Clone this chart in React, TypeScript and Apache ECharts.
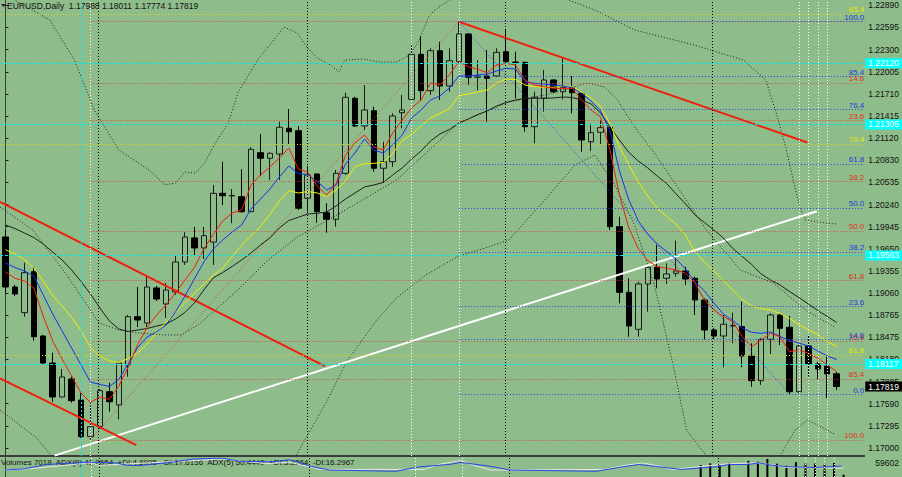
import React, { useEffect, useRef } from "react";
import * as echarts from "echarts";

const BG = "#8fbc8b";
const FONT = "Liberation Sans, Arial, sans-serif";

// ---------------- data ----------------
const OPEN = [1.19808,1.19143,1.18801,1.19346,1.18491,1.18132,1.17680,1.17919,1.17640,1.17152,1.17285,1.17750,1.17574,1.18106,1.18748,1.18664,1.19130,1.18917,1.19076,1.19475,1.19795,1.19662,1.19741,1.20389,1.20353,1.20344,1.20144,1.20929,1.20855,1.20912,1.21254,1.21222,1.20323,1.20646,1.20131,1.20043,1.20655,1.21653,1.21284,1.21488,1.20722,1.20809,1.21461,1.21639,1.22238,1.21754,1.22286,1.21816,1.22140,1.22508,1.21932,1.21949,1.21949,1.22272,1.22135,1.22131,1.21275,1.21653,1.21896,1.21740,1.21799,1.21719,1.21075,1.21201,1.21267,1.19945,1.19072,1.18580,1.19183,1.19405,1.19259,1.19325,1.19356,1.19259,1.18970,1.18571,1.18491,1.18624,1.18615,1.18225,1.17897,1.18447,1.18771,1.18607,1.17750,1.18358,1.18119,1.18092,1.17988];
const HIGH = [1.19901,1.19170,1.19466,1.19409,1.18505,1.18269,1.18052,1.17950,1.17733,1.17604,1.17786,1.17870,1.18136,1.18771,1.19143,1.19289,1.19156,1.19196,1.19569,1.19874,1.19941,1.19941,1.20500,1.20809,1.20446,1.20708,1.21001,1.21178,1.20932,1.21341,1.21510,1.21284,1.20752,1.20655,1.20256,1.20699,1.21727,1.21674,1.21830,1.21541,1.21075,1.21453,1.21697,1.22362,1.22481,1.22318,1.22405,1.22318,1.22671,1.22517,1.22160,1.22295,1.22318,1.22570,1.22272,1.22140,1.21740,1.22029,1.21905,1.22185,1.21949,1.21723,1.21315,1.21360,1.21275,1.20078,1.19259,1.19213,1.19413,1.19702,1.19458,1.19759,1.19413,1.19280,1.18993,1.18598,1.18771,1.18801,1.18947,1.18394,1.18461,1.18793,1.18793,1.18757,1.18372,1.18505,1.18149,1.18216,1.18011];
const LOW = [1.19063,1.19023,1.18748,1.18429,1.18106,1.17617,1.17673,1.17604,1.17135,1.17108,1.17254,1.17484,1.17383,1.17950,1.18611,1.18611,1.18957,1.18731,1.19037,1.19436,1.19569,1.19515,1.19436,1.20234,1.19990,1.20131,1.20140,1.20619,1.20566,1.20566,1.21032,1.20167,1.20144,1.19998,1.19865,1.19945,1.20633,1.21275,1.21231,1.20676,1.20530,1.20740,1.21254,1.21630,1.21630,1.21697,1.21630,1.21740,1.22118,1.21830,1.21760,1.21341,1.21940,1.22126,1.21653,1.21208,1.21054,1.21474,1.21719,1.21639,1.21453,1.20942,1.20952,1.21032,1.19901,1.18926,1.18482,1.18482,1.18814,1.19126,1.19183,1.19280,1.19170,1.18771,1.18447,1.18451,1.18075,1.18394,1.18075,1.17817,1.17840,1.18252,1.18372,1.17719,1.17733,1.17950,1.17915,1.17663,1.17774];
const CLOSE = [1.19143,1.19050,1.19333,1.18482,1.18132,1.17680,1.17946,1.17631,1.17152,1.17285,1.17764,1.17617,1.18132,1.18748,1.18704,1.19143,1.18983,1.19103,1.19475,1.19808,1.19662,1.19825,1.20389,1.20357,1.20360,1.20144,1.20974,1.20855,1.20921,1.21267,1.21208,1.20190,1.20633,1.20144,1.20043,1.20655,1.21666,1.21284,1.21497,1.20722,1.20809,1.21417,1.21497,1.22238,1.21754,1.22286,1.21816,1.22153,1.22508,1.21932,1.21949,1.21919,1.22264,1.22140,1.22129,1.21275,1.21666,1.21896,1.21740,1.21799,1.21727,1.21098,1.21195,1.21262,1.19945,1.19072,1.18624,1.19183,1.19405,1.19249,1.19316,1.19356,1.19249,1.18970,1.18571,1.18491,1.18647,1.18631,1.18225,1.17897,1.18447,1.18771,1.18594,1.17750,1.18358,1.18119,1.18052,1.17986,1.17819];

const MA_RED = [1.19342,1.19259,1.19223,1.19130,1.18757,1.18425,1.18185,1.17959,1.17733,1.17607,1.17680,1.17647,1.17826,1.18079,1.18378,1.18604,1.18771,1.18904,1.19063,1.19236,1.19402,1.19648,1.19841,1.20021,1.20127,1.20167,1.20500,1.20633,1.20739,1.20859,1.20992,1.20712,1.20672,1.20486,1.20367,1.20513,1.20899,1.21058,1.21165,1.21005,1.20965,1.21191,1.21364,1.21524,1.21630,1.21856,1.21830,1.21963,1.22139,1.22073,1.22038,1.21993,1.22096,1.22118,1.22096,1.21896,1.21830,1.21807,1.21786,1.21783,1.21786,1.21630,1.21497,1.21404,1.20965,1.20370,1.19928,1.19655,1.19495,1.19413,1.19392,1.19369,1.19325,1.19196,1.18970,1.18837,1.18748,1.18681,1.18482,1.18349,1.18438,1.18527,1.18482,1.18282,1.18305,1.18261,1.18195,1.18106,1.18016];
const MA_BLUE = [1.19462,1.19402,1.19356,1.19289,1.19037,1.18784,1.18558,1.18332,1.18106,1.17879,1.17846,1.17820,1.17913,1.18125,1.18338,1.18478,1.18544,1.18638,1.18810,1.19023,1.19249,1.19475,1.19648,1.19768,1.19874,1.19968,1.20180,1.20313,1.20446,1.20606,1.20752,1.20652,1.20639,1.20546,1.20433,1.20500,1.20779,1.20925,1.21111,1.20965,1.20925,1.21032,1.21165,1.21391,1.21497,1.21630,1.21683,1.21790,1.21949,1.21949,1.21963,1.21976,1.22016,1.22052,1.22042,1.21873,1.21852,1.21843,1.21830,1.21814,1.21796,1.21716,1.21617,1.21484,1.21218,1.20686,1.20300,1.20021,1.19848,1.19715,1.19615,1.19515,1.19382,1.19209,1.19090,1.18930,1.18784,1.18697,1.18598,1.18540,1.18527,1.18544,1.18485,1.18431,1.18398,1.18358,1.18292,1.18225,1.18179];
const MA_YELLOW = [1.19639,1.19582,1.19509,1.19396,1.19223,1.19030,1.18890,1.18737,1.18564,1.18338,1.18225,1.18159,1.18139,1.18192,1.18265,1.18385,1.18531,1.18677,1.18804,1.18937,1.19056,1.19183,1.19296,1.19396,1.19549,1.19695,1.19821,1.19948,1.20107,1.20287,1.20424,1.20393,1.20413,1.20393,1.20344,1.20433,1.20553,1.20746,1.20783,1.20788,1.20799,1.20921,1.21091,1.21171,1.21284,1.21391,1.21450,1.21517,1.21687,1.21710,1.21736,1.21763,1.21856,1.21909,1.21903,1.21830,1.21807,1.21799,1.21800,1.21810,1.21810,1.21736,1.21657,1.21544,1.21317,1.21005,1.20766,1.20539,1.20353,1.20187,1.20081,1.19974,1.19835,1.19608,1.19475,1.19356,1.19229,1.19103,1.18977,1.18890,1.18854,1.18840,1.18790,1.18724,1.18644,1.18571,1.18511,1.18418,1.18352];
const MA_BLACK = [1.19968,1.19921,1.19861,1.19801,1.19715,1.19608,1.19502,1.19369,1.19216,1.19050,1.18864,1.18691,1.18584,1.18551,1.18571,1.18591,1.18624,1.18651,1.18717,1.18804,1.18930,1.19103,1.19263,1.19336,1.19416,1.19502,1.19595,1.19702,1.19795,1.19928,1.20027,1.20070,1.20114,1.20123,1.20140,1.20220,1.20313,1.20393,1.20473,1.20500,1.20533,1.20633,1.20726,1.20845,1.20952,1.21085,1.21178,1.21238,1.21324,1.21377,1.21437,1.21484,1.21550,1.21597,1.21630,1.21650,1.21653,1.21653,1.21657,1.21670,1.21663,1.21630,1.21577,1.21457,1.21271,1.21098,1.20932,1.20819,1.20726,1.20619,1.20519,1.20380,1.20247,1.20101,1.20001,1.19901,1.19795,1.19655,1.19549,1.19442,1.19316,1.19236,1.19170,1.19083,1.19003,1.18917,1.18830,1.18751,1.18671];

const BB_UPPER = [[0,1.23027],[4.7,1.22694],[7.3,1.22162],[9.4,1.21497],[12,1.20965],[15.2,1.20699],[16.9,1.205],[18,1.20526],[19,1.20672],[20.1,1.20659],[21.1,1.20792],[22.2,1.21058],[23.6,1.21324],[24.6,1.21723],[26.7,1.22162],[29.5,1.22601],[30.9,1.22521],[31.9,1.22335],[33,1.22189],[34.4,1.22096],[35.3,1.22002],[35.9,1.22162],[37.9,1.22175],[39.6,1.22135],[41.4,1.22135],[42.8,1.22229],[43.8,1.22428],[44.9,1.22761],[45.9,1.22867],[47,1.2296],[49.3,1.2316],[58.2,1.2316],[59.6,1.2296],[62.4,1.22827],[66.6,1.22561],[72.9,1.22362],[78.1,1.22162],[80.5,1.21896],[81.6,1.21457],[82.6,1.21005],[83.4,1.20566],[84.1,1.20207],[84.7,1.20034],[86.8,1.19994],[87.9,1.19981]];
const BB_MIDDLE = [[-0.58,1.20207],[2.9,1.19901],[6.5,1.19302],[9.9,1.18664],[12,1.18571],[14.1,1.18531],[16.9,1.18505],[18.6,1.18505],[20.4,1.18638],[24.6,1.19103],[27.8,1.19502],[30.9,1.19808],[35.1,1.20101],[41.4,1.20566],[48,1.21324],[53.3,1.21603],[57.1,1.21697],[61.6,1.21856],[63.4,1.21803],[64.8,1.2163],[66.6,1.21271],[69,1.20872],[74.2,1.19901],[77.8,1.19369],[81.3,1.19196],[84.7,1.18837],[87.9,1.18598]];
const BB_LOWER = [[-0.58,1.17507],[3.3,1.17135],[5.7,1.16775],[29.9,1.16709],[31.4,1.17042],[34.1,1.1764],[36.1,1.18145],[39.3,1.18704],[41.4,1.18997],[44.5,1.19303],[48,1.19555],[50.8,1.19662],[53.3,1.19768],[57.1,1.203],[60.3,1.20766],[62.4,1.20899],[64.5,1.205],[66.6,1.19968],[68.7,1.1917],[70.8,1.18039],[72.1,1.17241],[74.2,1.16895],[76,1.16576],[80.2,1.16576],[82,1.16895],[83.6,1.17241],[84.9,1.17374],[87,1.17241],[87.9,1.17175]];

const Y_TICKS = [1.17000,1.17295,1.17590,1.17885,1.18180,1.18475,1.18765,1.19060,1.19355,1.19650,1.19945,1.20240,1.20535,1.20830,1.21120,1.21415,1.21710,1.22005,1.22300,1.22595,1.22890];

const RED_FIB_PRICES = [1.22671,1.21859,1.21358,1.20546,1.19890,1.19233,1.18421,1.17920,1.17108];
const RED_FIB_LABELS = ["","14.6","23.6","38.2","50.0","61.8","76.4","85.4","100.0"];
const BLUE_FIB_PRICES = [1.22671,1.21948,1.21502,1.20779,1.20195,1.19611,1.18888,1.18442,1.17719];
const BLUE_FIB_LABELS = ["100.0","85.4","76.4","61.8","50.0","38.2","23.6","14.6","0.0"];
const YELLOW_FIB_PRICES = [1.22774,1.21045,1.18239];
const YELLOW_FIB_LABELS = ["85.4","76.4","61.8"];
const RED_FIB_START = 9;
const BLUE_FIB_START = 48;

const CYAN_LEVELS = [1.22120,1.21305,1.19563,1.18117];
const LAST_PRICE = 1.17819;

const TREND_RED = [
  [[-0.58,1.20275],[33.8,1.18090]],
  [[-0.58,1.17927],[13.85,1.17040]],
  [[48,1.22671],[84.9,1.21065]],
];
const TREND_WHITE = [[5.2,1.16900],[85.9,1.20151]];
const FIB_DIAG_RED = [[9,1.17108],[48,1.22671]];
const FIB_DIAG_BLUE = [[48,1.22671],[83,1.17719]];

const VLINE_WHITE = [9,43,48,84,85,86,87];
const VLINE_BLACK = [9.85,31.9,52.9,74.85];
const VLINE_CYAN = [8];

const VOL_IDX = [73,74,75,76,78,79,80,81,82,83,84,85,86,87,88];
const VOL = [37700,42765,36804,44253,50662,47682,56622,41721,35314,46640,41721,41721,39188,44253,7018];
const VOL_MAX = 59602;
const ADX_BLUE = [[0,22],[2,26],[4.3,39.5],[8.8,47],[11.6,44.5],[12.7,37],[14,36],[17.6,47],[19.7,57],[22.8,59.5],[24.6,49.5],[28,48],[29.8,54.5],[30.8,47],[31.9,34.5],[34,22],[41,18],[43.4,32],[46.6,39.5],[47.8,46],[50.8,34.5],[53,22],[62,18],[64.8,32],[66.5,39.5],[68.6,32],[71,24],[74.6,32],[76,39.5],[78,39.5],[79.1,44.5],[80.5,37],[82.3,32],[85,30],[87.8,34.5]];
const ADX_WHITE = [[0,22],[2.5,26],[4.6,32],[8.8,44.5],[9.9,37],[18.3,49.5],[22.8,57],[27.4,42],[29.8,47],[31.9,32],[33,24],[44,24],[45.5,40],[47.8,52],[49.4,34.5],[51,22],[63,24],[65.1,37],[66.9,44.5],[68.6,34.5],[70,24],[74.2,37],[76,42],[78.8,44.5],[80.5,39],[82,30],[88,28]];

const TITLE = "EURUSD,Daily  1.17988 1.18011 1.17774 1.17819";
const IND_TEXT = "Volumes 7018  ADX(8) 41.2654  +DI:4.8995  -DI:17.6156  ADX(5) 50.4440  +DI:3.2264  -DI:16.2967";

// ---------------- layout ----------------
const X_MIN = -0.577;
const X_MAX = 90.92;
const Y_MIN = 1.16895;
const Y_MAX = 1.2296;
const ADX_MAX = 60;

const RED = "#f01e0a";
const RED_DOT = "#d2463c";
const BLUE = "#1432f0";
const BLUE_DOT = "#2846e6";
const YEL = "#f0f000";
const CYAN = "#00e6e6";

function fibPairs(prices: number[], labels: string[], start: number, lineColor: string, textColor: string) {
  return prices.map((p, k) => [
    {
      coord: [start, p],
      lineStyle: { color: lineColor, type: [1, 2], width: 1 },
      label: {
        show: labels[k] !== "",
        formatter: labels[k],
        position: "insideEndTop",
        color: textColor,
        fontSize: 8,
        fontFamily: FONT,
        distance: 0,
      },
    },
    { coord: [X_MAX, p] },
  ]);
}

function vLines(yLo: number, yHi: number) {
  const items: any[] = [];
  const add = (i: number, color: string, type: number[]) =>
    items.push([
      { coord: [i, yLo], lineStyle: { color, type, width: 1 }, label: { show: false } },
      { coord: [i, yHi] },
    ]);
  VLINE_WHITE.forEach((i) => add(i, "#ffffff", [1, 2]));
  VLINE_BLACK.forEach((i) => add(i, "#000000", [1, 2]));
  VLINE_CYAN.forEach((i) => add(i, CYAN, [2, 2]));
  return items;
}

function priceBox(p: number, bg: string, lineColor: string, type: number[]) {
  return [
    {
      coord: [X_MIN, p],
      lineStyle: { color: lineColor, type, width: 1 },
      label: {
        show: true,
        position: "end",
        formatter: p.toFixed(5),
        backgroundColor: bg,
        color: "#ffffff",
        padding: [1, 4, 0, 3],
        fontSize: 8.5,
        lineHeight: 9,
        fontFamily: FONT,
        distance: 1,
      },
    },
    { coord: [X_MAX, p] },
  ];
}

export default function App() {
  const ref = useRef<HTMLDivElement>(null);
  useEffect(() => {
    if (!ref.current) return;
    const chart = echarts.init(ref.current, undefined, { renderer: "svg" });
    const candles = OPEN.map((o, i) => [i, o, CLOSE[i], LOW[i], HIGH[i]]);
    const toPairs = (arr: number[]) => arr.map((v, i) => [i, v]);

    const lineSeries = (data: any, color: string, width: number, type: any = "solid") => ({
      type: "line",
      xAxisIndex: 0,
      yAxisIndex: 0,
      data,
      symbol: "none",
      silent: true,
      lineStyle: { color, width, type },
    });

    const horizontalMarks: any[] = CYAN_LEVELS.map((p) => priceBox(p, "#00ffff", CYAN, [3, 2]));
    horizontalMarks.push(priceBox(LAST_PRICE, "#000000", "rgba(0,0,0,0)", [1, 0]));

    const option: any = {
      animation: false,
      backgroundColor: BG,
      grid: [
        { left: 0, right: 30, top: 0, bottom: 21 },
        { left: 0, right: 30, top: 458, height: 40 },
      ],
      xAxis: [
        {
          type: "value", gridIndex: 0, min: X_MIN, max: X_MAX,
          axisLabel: { show: false }, axisTick: { show: false }, splitLine: { show: false },
          axisLine: { show: true, onZero: false, lineStyle: { color: "#3c3c3c", width: 2 } },
        },
        {
          type: "value", gridIndex: 1, min: X_MIN, max: X_MAX,
          axisLabel: { show: false }, axisTick: { show: false }, splitLine: { show: false },
          axisLine: { show: false },
        },
      ],
      yAxis: [
        {
          type: "value", gridIndex: 0, position: "right", min: Y_MIN, max: Y_MAX,
          splitLine: { show: false },
          axisLine: { show: true, lineStyle: { color: "#3c3c3c", width: 1 } },
          axisTick: { show: true, length: 3, lineStyle: { color: "#1a1a1a" }, customValues: Y_TICKS },
          axisLabel: {
            show: true, color: "#111111", fontSize: 8.5, fontFamily: FONT, margin: 4,
            customValues: Y_TICKS,
            formatter: (v: number) => v.toFixed(5),
          },
        },
        {
          type: "value", gridIndex: 1, position: "right", min: 0, max: VOL_MAX,
          splitLine: { show: false },
          axisLine: { show: true, lineStyle: { color: "#3c3c3c", width: 1 } },
          axisTick: { show: false },
          axisLabel: {
            show: true, color: "#111111", fontSize: 8.5, fontFamily: FONT, margin: 4,
            customValues: [VOL_MAX], verticalAlign: "top",
            formatter: (v: number) => String(Math.round(v)),
          },
        },
        { type: "value", gridIndex: 1, min: 0, max: ADX_MAX, show: false },
      ],
      graphic: [
        {
          type: "polygon",
          shape: { points: [[1, 4], [6, 4], [3.5, 7]] },
          style: { fill: "#222" },
        },
        {
          type: "text", left: 7, top: 1,
          style: { text: TITLE, fill: "#111111", font: `8.5px ${FONT}` },
        },
        {
          type: "text", left: 1, top: 458,
          style: { text: IND_TEXT, fill: "#111111", font: `8px ${FONT}` },
        },
      ],
      series: [
        {
          type: "line", xAxisIndex: 0, yAxisIndex: 0, data: [], clip: false, silent: true,
          markLine: {
            silent: true, symbol: ["none", "none"], animation: false,
            data: [
              ...fibPairs(YELLOW_FIB_PRICES, YELLOW_FIB_LABELS, X_MIN, "#dcdc00", "#e6e600"),
              ...fibPairs(RED_FIB_PRICES, RED_FIB_LABELS, RED_FIB_START, RED_DOT, "#e0321e"),
              ...fibPairs(BLUE_FIB_PRICES, BLUE_FIB_LABELS, BLUE_FIB_START, BLUE_DOT, "#1e3cdc"),
              ...vLines(Y_MIN, Y_MAX),
              ...horizontalMarks,
            ],
          },
        },
        lineSeries(BB_UPPER, "#1e1e1e", 1, [1, 2]),
        lineSeries(BB_MIDDLE, "#1e1e1e", 1, [1, 2]),
        lineSeries(BB_LOWER, "#1e1e1e", 1, [1, 2]),
        lineSeries(FIB_DIAG_RED, RED_DOT, 1, [1, 2]),
        lineSeries(FIB_DIAG_BLUE, BLUE_DOT, 1, [1, 2]),
        lineSeries(TREND_WHITE, "#ffffff", 2),
        ...TREND_RED.map((t) => lineSeries(t, RED, 2)),
        lineSeries(toPairs(MA_BLACK), "#1e1e1e", 1),
        lineSeries(toPairs(MA_YELLOW), YEL, 1),
        lineSeries(toPairs(MA_BLUE), BLUE, 1),
        lineSeries(toPairs(MA_RED), RED, 1),
        {
          type: "candlestick",
          xAxisIndex: 0, yAxisIndex: 0,
          data: candles,
          encode: { x: 0, y: [1, 2, 3, 4] },
          barWidth: 6,
          silent: true,
          itemStyle: {
            color: BG, color0: "#000000",
            borderColor: "#1a1a1a", borderColor0: "#000000", borderWidth: 1,
          },
        },
        {
          type: "line", xAxisIndex: 1, yAxisIndex: 2, data: [], clip: false, silent: true,
          markLine: { silent: true, symbol: ["none", "none"], animation: false, data: vLines(0, ADX_MAX) },
        },
        {
          type: "bar", xAxisIndex: 1, yAxisIndex: 1, silent: true,
          data: VOL_IDX.map((i, k) => [i, VOL[k]]),
          barWidth: 2,
          itemStyle: { color: "#000000" },
        },
        {
          type: "line", xAxisIndex: 1, yAxisIndex: 2, data: ADX_WHITE, symbol: "none", silent: true,
          lineStyle: { color: "#e6e6e6", width: 1 },
        },
        {
          type: "line", xAxisIndex: 1, yAxisIndex: 2, data: ADX_BLUE, symbol: "none", silent: true,
          lineStyle: { color: "#2846e6", width: 1 },
        },
      ],
    };
    chart.setOption(option);
    return () => chart.dispose();
  }, []);
  return (
    <div
      ref={ref}
      style={{ position: "fixed", left: 0, top: 0, width: 902, height: 477, overflow: "hidden", background: BG }}
    />
  );
}
